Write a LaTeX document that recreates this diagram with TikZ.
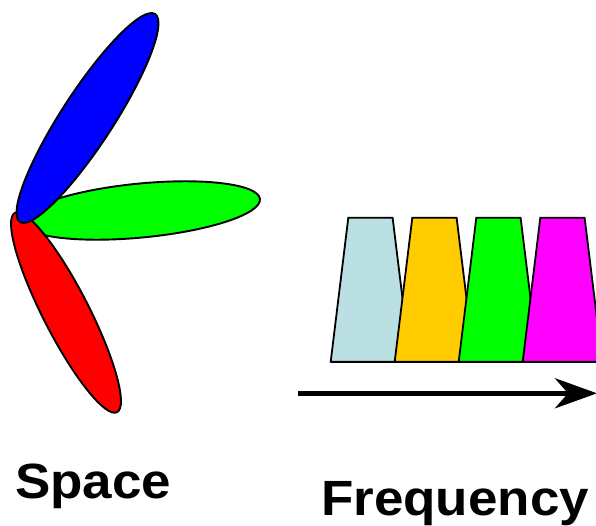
\documentclass[tikz,border=0pt]{standalone}
\usepackage{fontspec}
\setmainfont{Liberation Sans}
\usetikzlibrary{shapes.geometric,arrows.meta}
\definecolor{lblue}{RGB}{187,224,228}
\definecolor{gold}{RGB}{255,204,0}
\definecolor{lgreen}{RGB}{0,255,0}
\definecolor{magenta2}{RGB}{255,0,255}
\tikzset{
  beam/.style={ellipse, draw=black, line width=1.9pt, inner sep=0pt, outer sep=0pt},
  band/.style={draw=black, line width=1.8pt, line join=miter},
  label/.style={font=\fontsize{49.5}{60}\selectfont\bfseries, inner sep=0pt, anchor=base west, xscale=1.07},
}
\begin{document}
\begin{tikzpicture}[x=1pt,y=-1pt]
\clip (0,0) rectangle (596,526);
\fill[white] (0,0) rectangle (596,526);
% beams
\node[beam, fill=lgreen, minimum width=239pt, minimum height=54pt, rotate=5.5] (green) at (141,210.5) {};
\node[beam, fill=red, minimum width=224pt, minimum height=46pt, rotate=-62.9] (red) at (66,312.5) {};
\node[beam, fill=blue, minimum width=248pt, minimum height=52pt, rotate=57] (blue) at (87.5,118) {};
% bands
\foreach \i/\c in {0/lblue,1/gold,2/lgreen,3/magenta2}{
  \draw[band, fill=\c] ({330.7+64*\i},361.7) -- ({348.3+64*\i},217.7) -- ({392.6+64*\i},217.7) -- ({410.3+64*\i},361.7) -- cycle;
}
\draw[band] (330.7,361.7) -- (600,361.7);
% arrow
\coordinate (a0) at (298,393.3);
\coordinate (a1) at (597,393.3);
\draw[line width=5pt, -{Stealth[length=42pt, width=30pt, inset=13pt]}] (a0) -- (a1);
% labels
\node[label] (space) at (15,498.3) {Space};
\node[label] (freq) at (321,515) {Frequency};
\end{tikzpicture}
\end{document}
